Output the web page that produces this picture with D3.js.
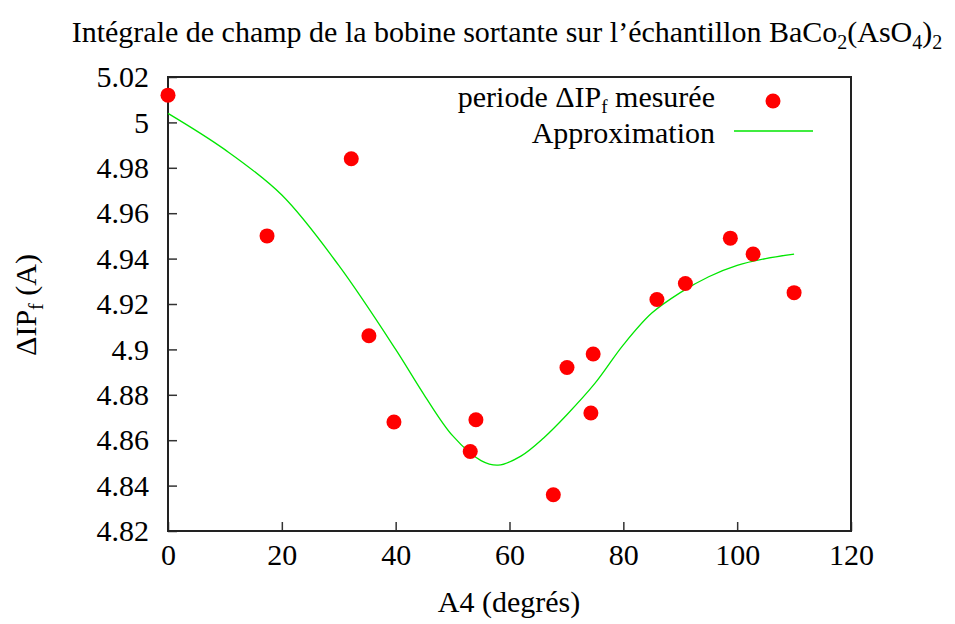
<!DOCTYPE html>
<html><head><meta charset="utf-8">
<script src="https://cdn.jsdelivr.net/npm/d3@7"></script>
<style>body{margin:0;background:#fff;} text{font-family:"Liberation Serif","Times New Roman",serif;fill:#000;}</style>
</head><body><svg id="c" width="955" height="624"></svg>
<script>
const measuredA4 = [0, 17.4, 32.2, 35.3, 39.7, 53.1, 54.1, 67.7, 70.1, 74.3, 74.7, 85.9, 90.9, 98.8, 102.8, 110.0];
const measuredIP = [5.012, 4.950, 4.984, 4.906, 4.868, 4.855, 4.869, 4.836, 4.892, 4.872, 4.898, 4.922, 4.929, 4.949, 4.942, 4.925];
const fitA4 = [0, 10, 20, 30, 40, 45, 50, 55, 58, 62, 66, 70, 75, 80, 85, 90, 95, 100, 105, 110];
const fitIP = [5.004, 4.988, 4.968, 4.937, 4.900, 4.880, 4.862, 4.851, 4.849, 4.853, 4.861, 4.871, 4.885, 4.902, 4.916, 4.925, 4.932, 4.937, 4.940, 4.942];
const xTicks = [0, 20, 40, 60, 80, 100, 120];
const yTicks = [4.82, 4.84, 4.86, 4.88, 4.9, 4.92, 4.94, 4.96, 4.98, 5, 5.02];

const svg = d3.select("#c");
const L = 168, R = 851, T = 77, B = 531;
const x = d3.scaleLinear().domain([0, 120]).range([L, R]);
const y = d3.scaleLinear().domain([4.82, 5.02]).range([B, T]);
const fs = 30, sub = 20, sd = 7;
const ff = "Liberation Serif";

// title
const title = svg.append("text").attr("x", 507).attr("y", 42).attr("text-anchor", "middle").style("font-size", fs + "px");
title.append("tspan").text("Intégrale de champ de la bobine sortante sur l’échantillon BaCo");
title.append("tspan").attr("dy", sd).style("font-size", sub + "px").text("2");
title.append("tspan").attr("dy", -sd).text("(AsO");
title.append("tspan").attr("dy", sd).style("font-size", sub + "px").text("4");
title.append("tspan").attr("dy", -sd).text(")");
title.append("tspan").attr("dy", sd).style("font-size", sub + "px").text("2");

// axes (inward ticks)
const xAxis = d3.axisBottom(x).tickValues(xTicks).tickSize(-9).tickPadding(13).tickFormat(d3.format("d"));
const gx = svg.append("g").attr("transform", `translate(0,${B})`).call(xAxis);
gx.select(".domain").remove();
gx.selectAll("line").attr("stroke", "#333").attr("stroke-width", 1.5);
gx.selectAll("text").style("font-size", fs + "px").style("font-family", ff);

const yAxis = d3.axisLeft(y).tickValues(yTicks).tickSize(-9).tickPadding(19).tickFormat(d => String(+d.toFixed(2)));
const gy = svg.append("g").attr("transform", `translate(${L},0)`).call(yAxis);
gy.select(".domain").remove();
gy.selectAll("line").attr("stroke", "#333").attr("stroke-width", 1.5);
gy.selectAll("text").style("font-size", fs + "px").style("font-family", ff);

// frame
svg.append("rect").attr("x", L).attr("y", T).attr("width", R - L).attr("height", B - T)
  .attr("fill", "none").attr("stroke", "#222").attr("stroke-width", 2);

// axis titles
svg.append("text").attr("x", 509).attr("y", 612).attr("text-anchor", "middle").style("font-size", fs + "px").text("A4 (degrés)");
const yl = svg.append("text").attr("transform", "translate(36,305) rotate(-90)").attr("text-anchor", "middle").style("font-size", fs + "px");
yl.append("tspan").text("ΔIP");
yl.append("tspan").attr("dy", sd).style("font-size", sub + "px").text("f");
yl.append("tspan").attr("dy", -sd).text(" (A)");

// fit curve
const fitData = fitA4.map((a, i) => [a, fitIP[i]]);
svg.append("path").datum(fitData)
  .attr("d", d3.line().x(d => x(d[0])).y(d => y(d[1])).curve(d3.curveCatmullRom))
  .attr("fill", "none").attr("stroke", "#00e600").attr("stroke-width", 1.3);

// points
const pts = measuredA4.map((a, i) => [a, measuredIP[i]]);
svg.append("g").selectAll("circle").data(pts).join("circle")
  .attr("cx", d => x(d[0])).attr("cy", d => y(d[1])).attr("r", 7.5).attr("fill", "#ff0000");

// legend
const lg1 = svg.append("text").attr("x", 715).attr("y", 107).attr("text-anchor", "end").style("font-size", fs + "px");
lg1.append("tspan").text("periode ΔIP");
lg1.append("tspan").attr("dy", 6).style("font-size", "19px").text("f");
lg1.append("tspan").attr("dy", -6).text(" mesurée");
svg.append("circle").attr("cx", 773).attr("cy", 101).attr("r", 7.5).attr("fill", "#ff0000");
svg.append("text").attr("x", 715).attr("y", 143).attr("text-anchor", "end").style("font-size", fs + "px").text("Approximation");
svg.append("line").attr("x1", 734).attr("x2", 813).attr("y1", 131).attr("y2", 131).attr("stroke", "#00e600").attr("stroke-width", 1.3);
</script></body></html>
